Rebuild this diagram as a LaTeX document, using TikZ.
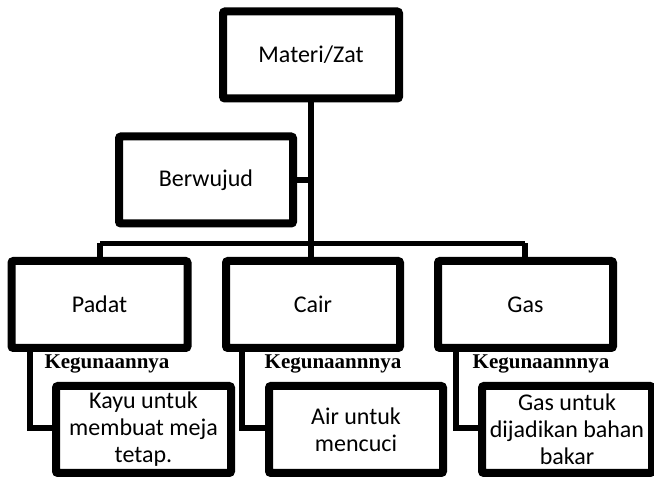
\documentclass[tikz,border=0pt]{standalone}
\usepackage{fontspec}
\setmainfont{Carlito}
\newfontfamily\labelfont{Liberation Serif}
\usetikzlibrary{shadows}
\begin{document}
\begin{tikzpicture}[x=1pt,y=-1pt,
  box/.style={draw=black, line width=8pt, fill=white, rounded corners=2pt,
    minimum width=176pt, minimum height=87pt, inner sep=2pt,
    align=center, font=\fontsize{24}{27}\selectfont,
    drop shadow={opacity=0.25, shadow xshift=2pt, shadow yshift=-2pt}},
  link/.style={draw=black, line width=5.5pt},
  usage/.style={font=\labelfont\bfseries\fontsize{21}{25}\selectfont, inner sep=0pt}]
\useasboundingbox (0,0) rectangle (654,478);

% bus and branch points
\coordinate (trunk) at (311,243.5);
\coordinate (busL) at (100,243.5);
\coordinate (busR) at (525,243.5);

% categories
\node[box] (mat) at (311,55) {Materi/Zat};
\node[box, minimum width=174pt] (ber) at (206,180) {Berwujud};
\node[box] (pad) at (99.5,304.5) {Padat};
\node[box, minimum width=174pt] (cai) at (313,304.5) {Cair};
\node[box, minimum width=175pt] (gas) at (525.5,304.5) {Gas};

% examples of use
\node[box, minimum width=175pt] (kay) at (143.5,429.5) {Kayu untuk\\membuat meja\\tetap.};
\node[box, minimum width=174pt] (air) at (356,429.5) {Air untuk\\mencuci};
\node[box, minimum width=170pt] (gau) at (567,429.5) {Gas untuk\\dijadikan bahan\\bakar};

\node[usage] (k1) at (107,364) {Kegunaannya};
\node[usage] (k2) at (333,364) {Kegunaannnya};
\node[usage] (k3) at (541,364) {Kegunaannnya};

% tree connectors
\draw[link] (mat.south -| trunk) -- (trunk);
\draw[link] (ber.east) -- (ber.east -| trunk);
\draw[link] (busL) -- (busR);
\draw[link] (busL) -- (pad.north -| busL);
\draw[link] (trunk) -- (cai.north -| trunk);
\draw[link] (busR) -- (gas.north -| busR);

% usage brackets
\draw[link] (pad.south -| 30,0) |- (kay.west |- 0,428);
\draw[link] (cai.south -| 242,0) |- (air.west |- 0,428);
\draw[link] (gas.south -| 456,0) |- (gau.west |- 0,428);
\end{tikzpicture}
\end{document}
